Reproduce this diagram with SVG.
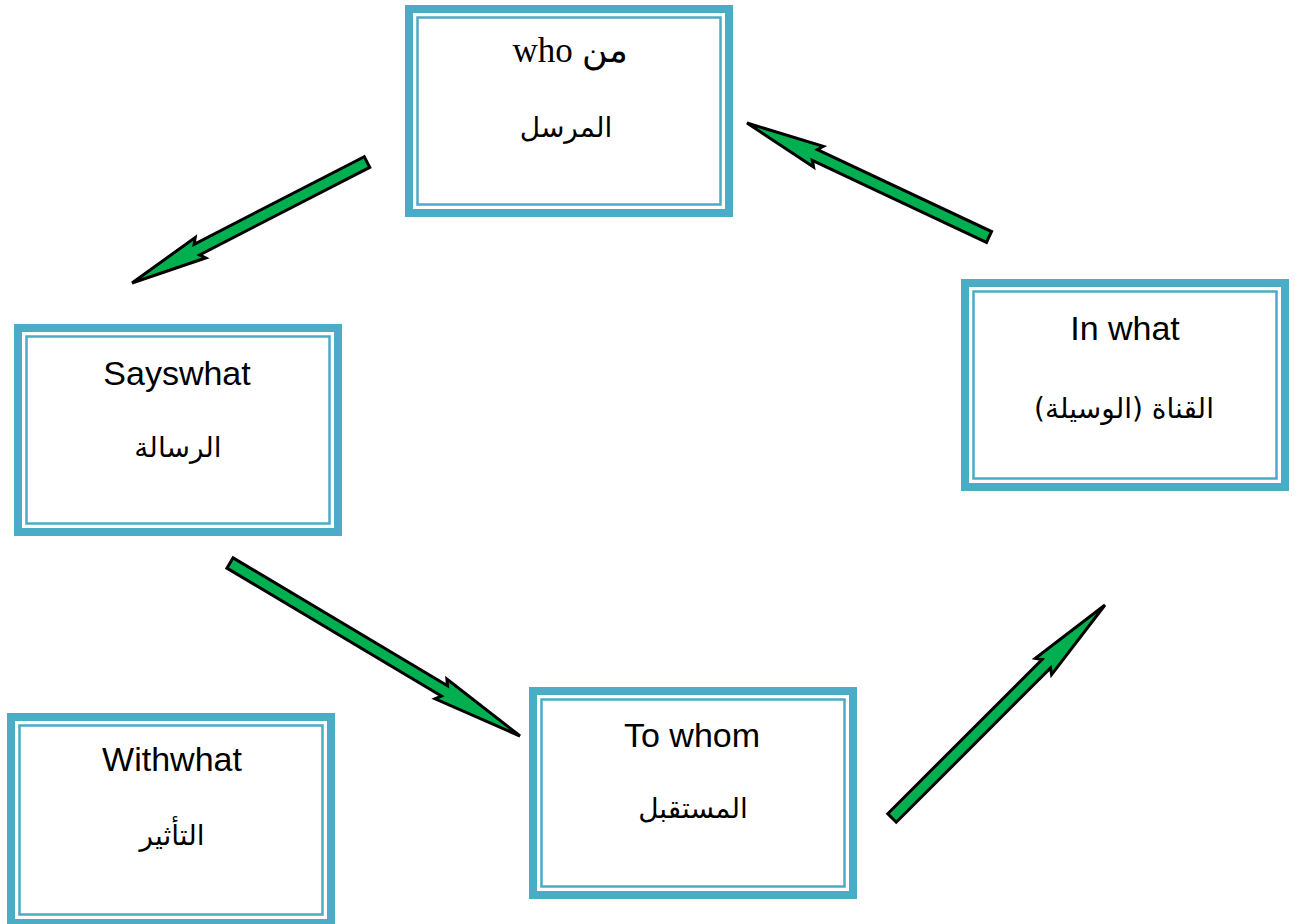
<svg xmlns="http://www.w3.org/2000/svg" width="1300" height="924" viewBox="0 0 1300 924">
<style>
.outer{fill:#fff;stroke:#4BACC6;stroke-width:8}
.inner{fill:none;stroke:#4BACC6;stroke-width:2.5}
.en{font-family:"Liberation Sans","DejaVu Sans",sans-serif;font-size:34px;fill:#000;text-anchor:middle}
.ser{font-family:"Liberation Serif","DejaVu Serif",serif;font-size:35px;fill:#000;text-anchor:middle}
.ar{font-family:"DejaVu Sans","Liberation Sans",sans-serif;font-size:28px;fill:#000;text-anchor:middle}
.arrow{fill:#00B050;stroke:#000;stroke-width:3;stroke-linejoin:miter}
</style>
<rect width="1300" height="924" fill="#fff"/>
<g id="connectors">
<path class="arrow" transform="translate(367,162) rotate(152.76)" d="M0,-6 L191.3,-6 L187.3,-11.5 L264.3,0 L187.3,11.5 L191.3,6 L0,6 Z"/>
<path class="arrow" transform="translate(989,237) rotate(205.22)" d="M0,-6 L192.5,-6 L188.5,-11.5 L267.5,0 L188.5,11.5 L192.5,6 L0,6 Z"/>
<path class="arrow" transform="translate(230,563) rotate(30.82)" d="M0,-6 L249.7,-6 L245.7,-11.5 L337.7,0 L245.7,11.5 L249.7,6 L0,6 Z"/>
<path class="arrow" transform="translate(892,818) rotate(-45)" d="M0,-6 L218.2,-6 L214.2,-11.5 L301.2,0 L214.2,11.5 L218.2,6 L0,6 Z"/>
</g>
<g id="who">
<rect class="outer" x="409" y="9" width="320" height="204"/>
<rect class="inner" x="417.5" y="17.5" width="303" height="187"/>
<text class="ser" x="570" y="62">who من</text>
<text class="ar" x="566" y="137" direction="rtl">المرسل</text>
</g>
<g id="sayswhat">
<rect class="outer" x="18" y="328" width="320" height="204"/>
<rect class="inner" x="26.5" y="336.5" width="303" height="187"/>
<text class="en" x="177" y="385">Sayswhat</text>
<text class="ar" x="178" y="457" direction="rtl">الرسالة</text>
</g>
<g id="inwhat">
<rect class="outer" x="965" y="283" width="320" height="204"/>
<rect class="inner" x="973.5" y="291.5" width="303" height="187"/>
<text class="en" x="1125" y="340">In what</text>
<text class="ar" x="1124" y="418" direction="rtl">القناة (الوسيلة)</text>
</g>
<g id="towhom">
<rect class="outer" x="533" y="691" width="320" height="204"/>
<rect class="inner" x="541.5" y="699.5" width="303" height="187"/>
<text class="en" x="692" y="747">To whom</text>
<text class="ar" x="693" y="818" direction="rtl">المستقبل</text>
</g>
<g id="withwhat">
<rect class="outer" x="11" y="717" width="320" height="206"/>
<rect class="inner" x="19.5" y="725.5" width="303" height="189"/>
<text class="en" x="172" y="771">Withwhat</text>
<text class="ar" x="172" y="845" direction="rtl">التأثير</text>
</g>
</svg>
